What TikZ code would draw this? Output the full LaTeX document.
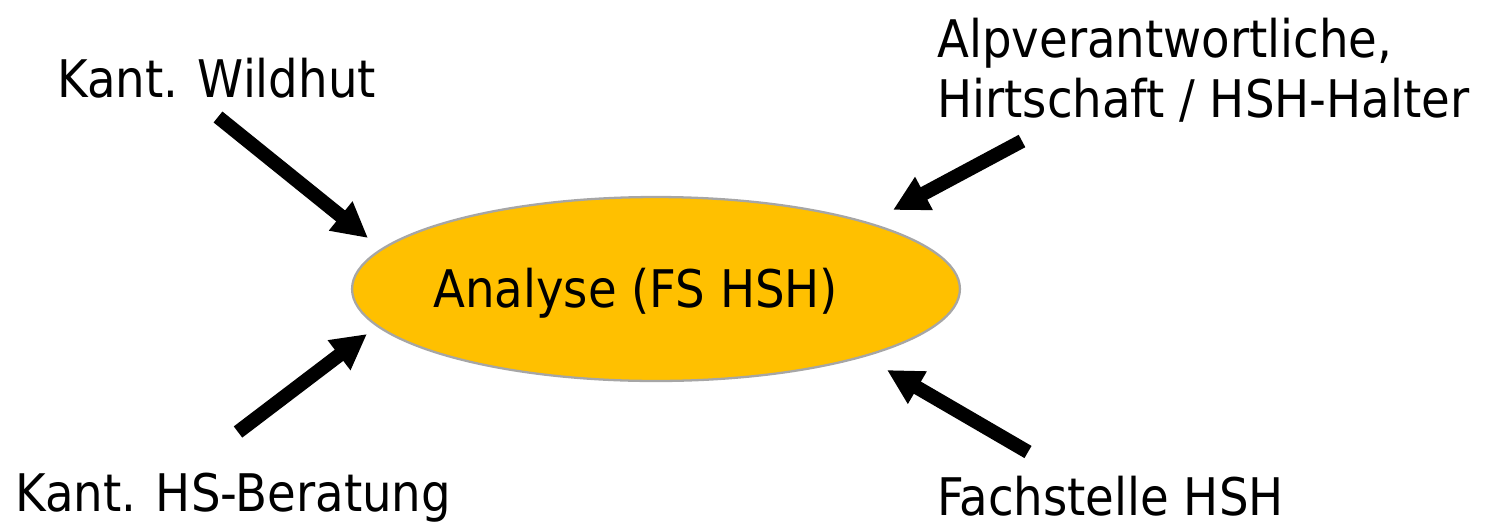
\documentclass[tikz,border=0pt]{standalone}
\usepackage{fontspec}
\setmainfont{DejaVu Sans Condensed}
\usetikzlibrary{arrows.meta,shapes.geometric}
\definecolor{gold}{HTML}{FFC000}
\definecolor{rim}{HTML}{A6A6A6}
\tikzset{
  lbl/.style={anchor=base west,inner sep=0pt,font=\fontsize{29.5}{36}\selectfont},
  arr/.style={line width=8pt,-{Triangle[length=20pt,width=20pt]}},
}
\begin{document}
\begin{tikzpicture}[x=0.02cm,y=-0.02cm]
\useasboundingbox (0,0) rectangle (1495,525);
\node[ellipse,draw=rim,line width=1.3pt,fill=gold,inner sep=0pt,
      minimum width=12.16cm,minimum height=3.68cm] (ana) at (656,289) {};
\node[lbl] (atext) at (433,307) {Analyse (FS HSH)};
\node[lbl] (wild) at (57,97) {Kant. Wildhut};
\node[lbl] (alp1) at (937,57) {Alpverantwortliche,};
\node[lbl] (alp2) at (937,117) {Hirtschaft / HSH-Halter};
\node[lbl] (bera) at (15,511) {Kant. HS-Beratung};
\node[lbl] (fach) at (937,515) {Fachstelle HSH};
\coordinate (w0) at (218,117); \coordinate (w1) at (368,238);
\coordinate (a0) at (1022,141); \coordinate (a1) at (893,210);
\coordinate (b0) at (238,432); \coordinate (b1) at (367,334);
\coordinate (f0) at (1028,452); \coordinate (f1) at (887,370);
\draw[arr] (w0) -- (w1);
\draw[arr] (a0) -- (a1);
\draw[arr] (b0) -- (b1);
\draw[arr] (f0) -- (f1);
\end{tikzpicture}
\end{document}
